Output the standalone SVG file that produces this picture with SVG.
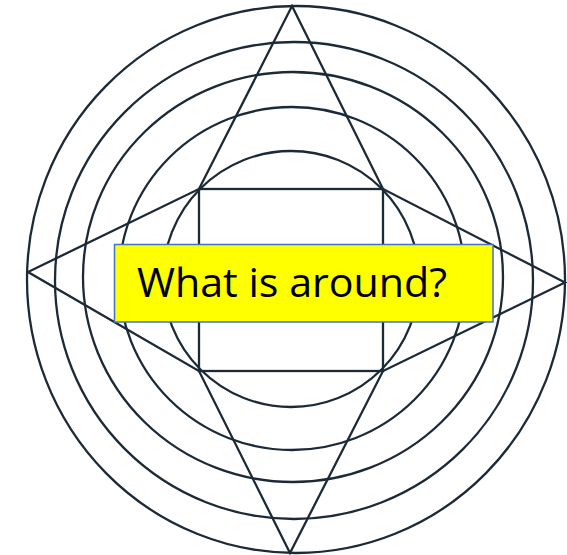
<svg xmlns="http://www.w3.org/2000/svg" width="567" height="555" viewBox="0 0 567 555">
  <style>
    .ln { fill: none; stroke: #1c2a38; stroke-width: 2.3; stroke-linejoin: miter; }
    .box { fill: #ffff00; stroke: #4472c4; stroke-width: 1.5; }
    .lbl { font-family: "Open Sans", "Liberation Sans", sans-serif; font-size: 41px; fill: #000000; }
  </style>
  <rect width="567" height="555" fill="#ffffff"/>
  <g id="circles">
    <ellipse class="ln" cx="296" cy="279.5" rx="269" ry="273.5"/>
    <ellipse class="ln" cx="294" cy="280.5" rx="239" ry="238.5"/>
    <ellipse class="ln" cx="293" cy="277" rx="210" ry="205"/>
    <ellipse class="ln" cx="292" cy="278.5" rx="173" ry="171.5"/>
    <circle class="ln" cx="291" cy="279" r="128"/>
  </g>
  <g id="star">
    <polygon class="ln" points="292,6 383,189 565,282.5 383,371 290,553 199,371 28,272 199,189"/>
  </g>
  <g id="square">
    <rect class="ln" x="199" y="189" width="184" height="182"/>
  </g>
  <g id="label">
    <rect class="box" x="114.5" y="244.5" width="378.5" height="77.5"/>
    <text class="lbl" x="137" y="297" textLength="310" lengthAdjust="spacingAndGlyphs">What is around?</text>
  </g>
</svg>
